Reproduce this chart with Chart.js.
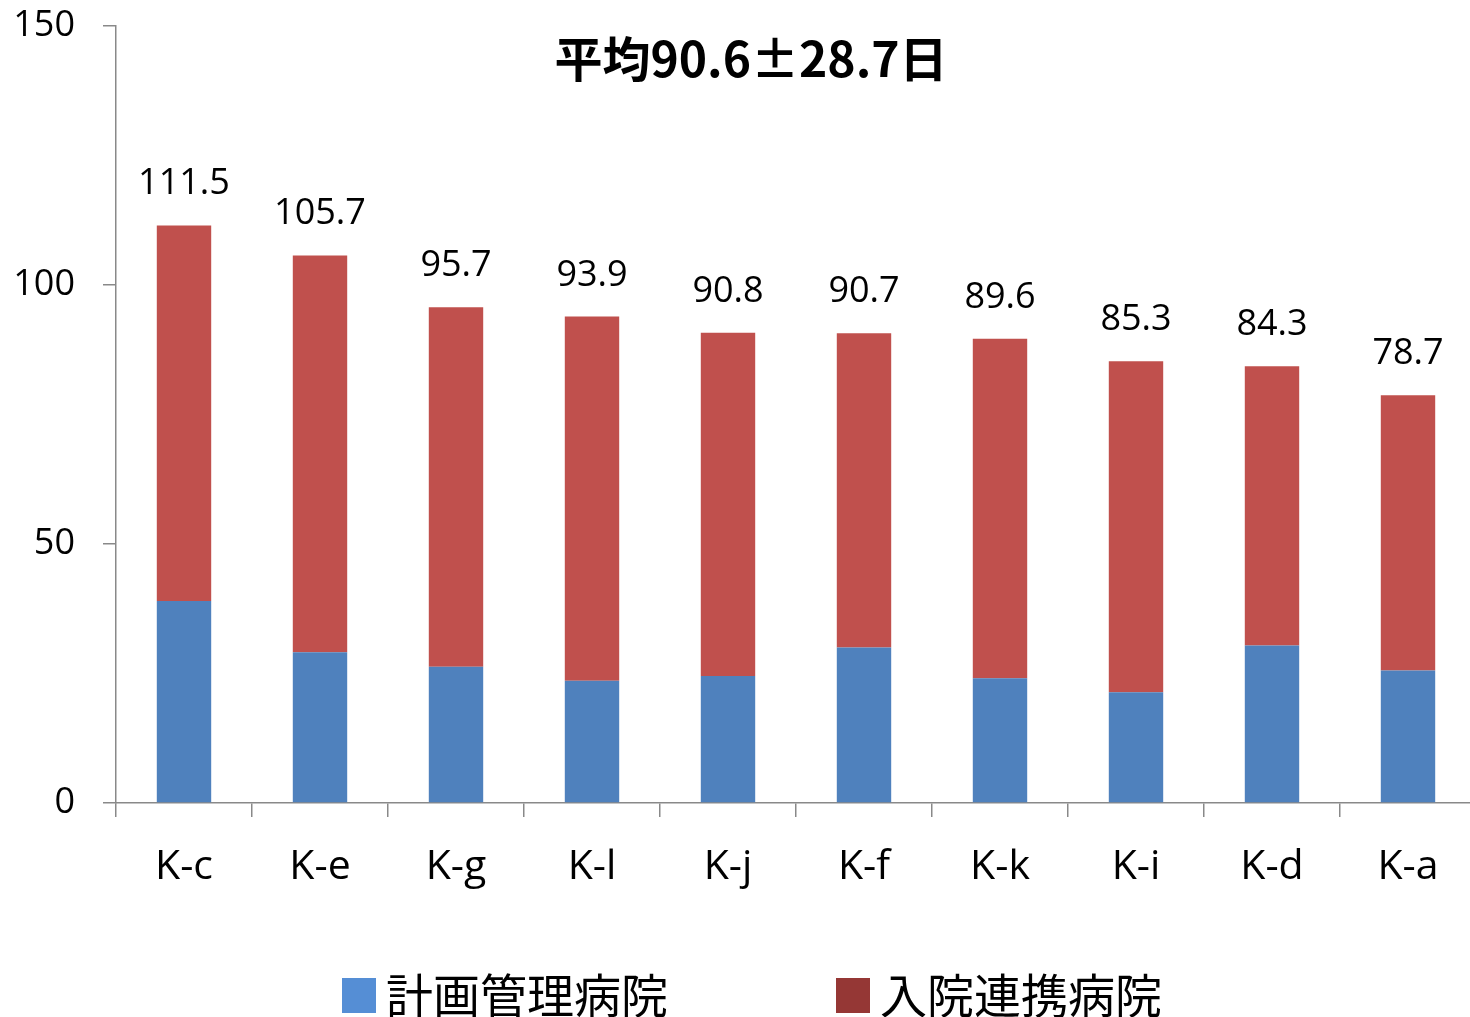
<!DOCTYPE html>
<html><head><meta charset="utf-8">
<script src="https://cdn.jsdelivr.net/npm/chart.js@4.4.1/dist/chart.umd.min.js"></script>
<style>
html,body{margin:0;padding:0;background:#fff;overflow:hidden;width:1470px;height:1017px}
canvas{display:block}
</style></head>
<body><canvas id="c" width="1478" height="1017"></canvas>
<script>
const categories = ['K-c','K-e','K-g','K-l','K-j','K-f','K-k','K-i','K-d','K-a'];
const totals  = [111.5,105.7,95.7,93.9,90.8,90.7,89.6,85.3,84.3,78.7];
const planned = [39.0,29.1,26.3,23.6,24.5,30.0,24.1,21.4,30.4,25.6];
const linked  = [72.5,76.6,69.4,70.3,66.3,60.7,65.5,63.9,53.9,53.1];
const seriesNames = ['計画管理病院','入院連携病院'];
const yTicks = [0,50,100,150];
const titleText = '平均90.6±28.7日';

const LATIN = '"Open Sans", "Noto Sans", sans-serif';
const CJK = '"Noto Sans CJK JP", "Noto Sans", sans-serif';
const AXIS = '#898989';
const legendColors = ['#558ED5','#953735'];

const overlay = {
  id: 'overlay',
  afterDraw(chart) {
    const ctx = chart.ctx;
    ctx.save();
    // totals above bars
    const meta = chart.getDatasetMeta(1);
    ctx.font = '36px ' + LATIN;
    ctx.fillStyle = '#000';
    ctx.textAlign = 'center';
    ctx.textBaseline = 'alphabetic';
    meta.data.forEach((bar, i) => {
      ctx.fillText(totals[i].toFixed(1), bar.x, bar.y - 31);
    });
    // title
    const cx = chart.width / 2 + 12;
    ctx.font = 'bold 48px ' + CJK;
    ctx.fillText(titleText, cx, 77);
    // legend
    ctx.font = '47px ' + CJK;
    ctx.textAlign = 'left';
    ctx.textBaseline = 'middle';
    const box = 34, gapText = 10, gapItems = 168;
    const widths = seriesNames.map(n => ctx.measureText(n).width);
    const total = widths.reduce((a, w) => a + box + gapText + w, 0) + gapItems * (seriesNames.length - 1);
    let x = cx + 1 - total / 2;
    const yMid = 995;
    seriesNames.forEach((n, i) => {
      ctx.fillStyle = legendColors[i];
      ctx.fillRect(x, yMid - 17, box, 35);
      ctx.fillStyle = '#000';
      ctx.fillText(n, x + box + gapText, yMid);
      x += box + gapText + widths[i] + gapItems;
    });
    ctx.restore();
  }
};

function build() {
  new Chart(document.getElementById('c'), {
    type: 'bar',
    data: {
      labels: categories,
      datasets: [
        { label: seriesNames[0], data: planned, backgroundColor: '#4F81BD', borderWidth: 0 },
        { label: seriesNames[1], data: linked, backgroundColor: '#C0504D', borderWidth: 0 }
      ]
    },
    options: {
      responsive: false,
      animation: false,
      devicePixelRatio: 1,
      datasets: { bar: { categoryPercentage: 0.8, barPercentage: 0.5 } },
      layout: { padding: { top: 26, right: 2, bottom: 0, left: 0 } },
      plugins: { legend: { display: false }, title: { display: false }, tooltip: { enabled: false } },
      scales: {
        x: {
          stacked: true,
          grid: { display: true, drawOnChartArea: false, drawTicks: true, tickLength: 14, color: AXIS, lineWidth: 1.5, offset: true },
          border: { display: true, color: AXIS, width: 1.5 },
          ticks: { color: '#000', font: { family: LATIN, size: 41 }, padding: 26, maxRotation: 0, autoSkip: false },
          afterFit(s) { s.height = 214; s.paddingLeft = 0; s.paddingRight = 0; }
        },
        y: {
          stacked: true,
          min: 0, max: 150,
          afterBuildTicks(s) { s.ticks = yTicks.map(v => ({ value: v })); },
          grid: { display: true, drawOnChartArea: false, drawTicks: true, tickLength: 13, color: AXIS, lineWidth: 1.5 },
          border: { display: true, color: AXIS, width: 1.5 },
          ticks: { color: '#000', font: { family: LATIN, size: 36 }, padding: 28 },
          afterFit(s) { s.width = 116; s.paddingTop = 0; s.paddingBottom = 0; }
        }
      }
    },
    plugins: [overlay]
  });
}

Promise.all([
  document.fonts.load('36px "Open Sans"', '0123456789.K-'),
  document.fonts.load('bold 48px "Noto Sans CJK JP"', titleText),
  document.fonts.load('47px "Noto Sans CJK JP"', seriesNames.join(''))
]).then(build, build);
</script>
</body></html>
